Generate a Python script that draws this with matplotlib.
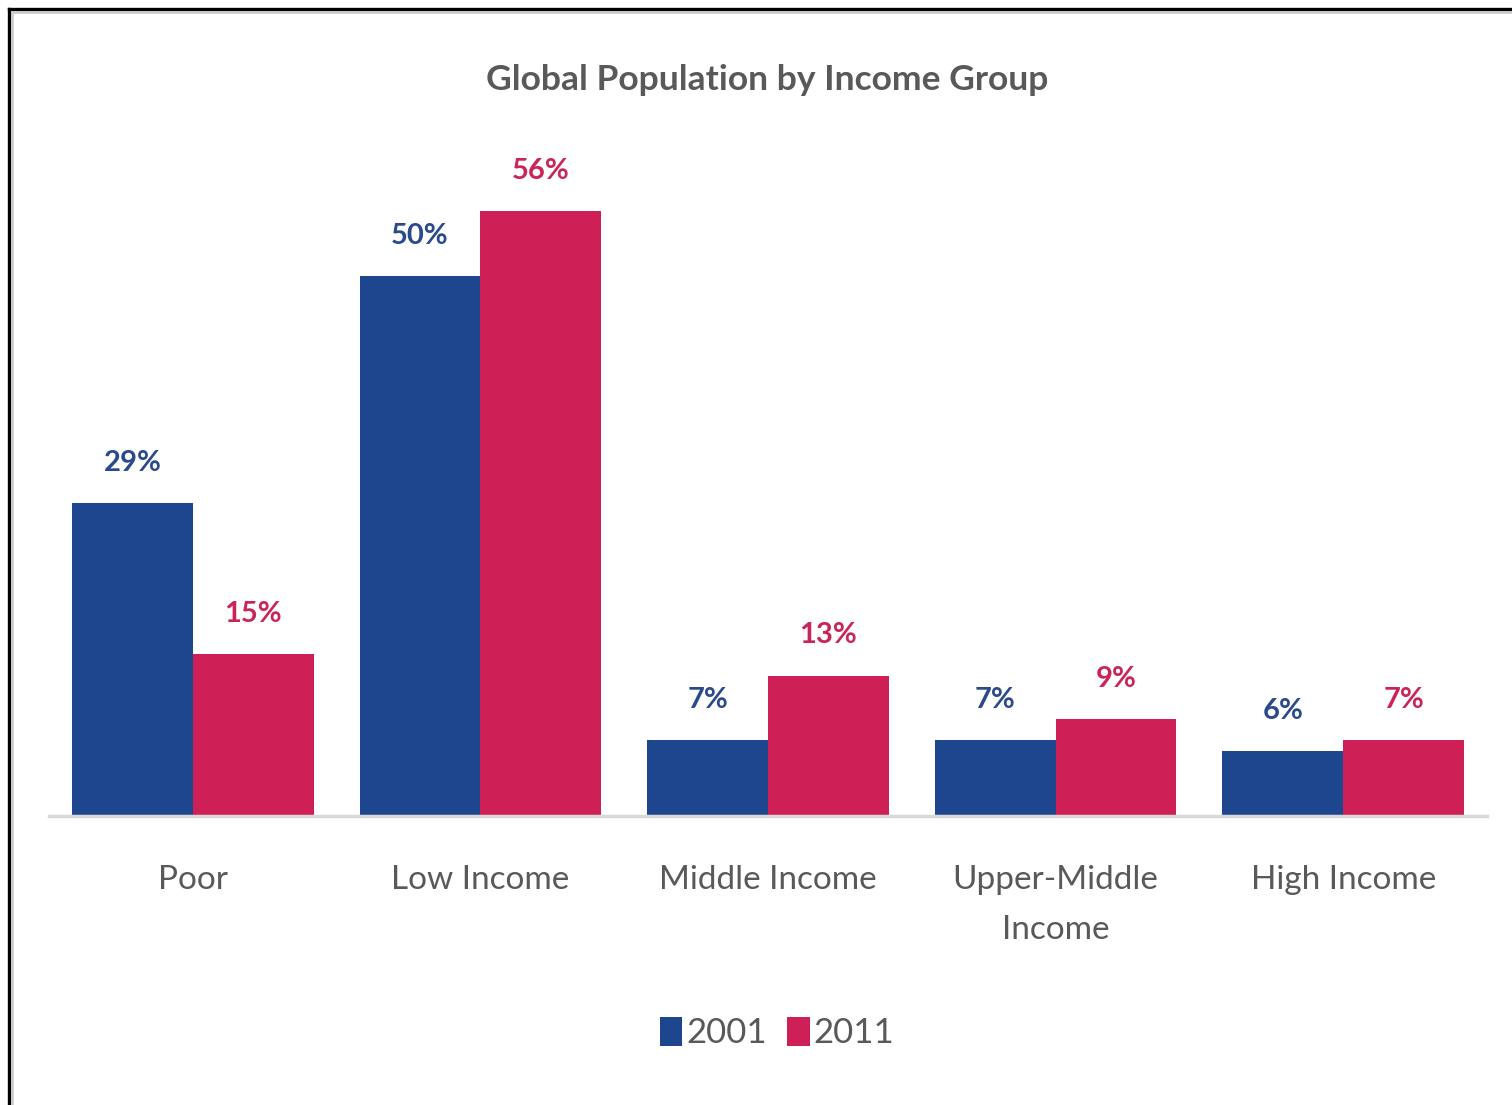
import matplotlib.pyplot as plt
from matplotlib.lines import Line2D
import numpy as np

plt.rcParams['font.family'] = ['Lato', 'DejaVu Sans']

groups = ["Poor", "Low Income", "Middle Income", "Upper-Middle\nIncome", "High Income"]
years = ["2001", "2011"]
share_2001 = [29, 50, 7, 7, 6]
share_2011 = [15, 56, 13, 9, 7]

blue = "#1D468F"
pink = "#CE1F56"
label_blue = "#2B4A8B"
label_pink = "#C92558"
grey_text = "#595959"

W, H = 1512, 1105
fig = plt.figure(figsize=(W / 100, H / 100), dpi=100)
ax = fig.add_axes([49 / W, 1 - 816 / H, 1438 / W, 648 / H])

x = np.arange(len(groups))
bw = 0.42
bars1 = ax.bar(x - bw / 2, share_2001, bw, color=blue, label=years[0])
bars2 = ax.bar(x + bw / 2, share_2011, bw, color=pink, label=years[1])

for bars, vals, col in [(bars1, share_2001, label_blue), (bars2, share_2011, label_pink)]:
    for b, v in zip(bars, vals):
        ax.annotate(f"{v}%", (b.get_x() + b.get_width() / 2, v),
                    xytext=(0, 29), textcoords="offset points",
                    ha="center", va="center", fontsize=21, fontweight="bold",
                    color=col)

ax.set_xlim(-0.5, len(groups) - 0.5)
ax.set_ylim(0, 60)
ax.set_yticks([])
ax.set_xticks(x)
ax.set_xticklabels(groups, fontsize=24, color=grey_text, linespacing=1.85)
ax.tick_params(axis="x", length=0, pad=35)
for side in ["top", "right", "left"]:
    ax.spines[side].set_visible(False)
ax.spines["bottom"].set_color("#D9D9D9")
ax.spines["bottom"].set_linewidth(2.5)

fig.text(767 / W, 1 - 80 / H, "Global Population by Income Group",
         ha="center", va="center", fontsize=25.5, fontweight="bold", color=grey_text)

fig.legend(handles=[bars1, bars2], labels=years, loc="center",
           bbox_to_anchor=(777 / W, 1 - 1033 / H), ncol=2, frameon=False,
           fontsize=25, handlelength=0.65, handleheight=0.9, handletextpad=0.1,
           columnspacing=0.6, labelcolor=grey_text)

# frame edges on the left and top
fig.add_artist(Line2D([8.5 / W, 8.5 / W], [0, 1 - 8.5 / H], color="black", lw=2.4))
fig.add_artist(Line2D([8.5 / W, 1], [1 - 8.5 / H, 1 - 8.5 / H], color="black", lw=2.4))
fig.add_artist(Line2D([11.5 / W, 1], [1 - 12 / H, 1 - 12 / H], color="#C8C8C8", lw=1.8))
fig.add_artist(Line2D([11.5 / W, 11.5 / W], [0, 1 - 12 / H], color="#C8C8C8", lw=1.8))

fig.savefig("out.png", dpi=100)
